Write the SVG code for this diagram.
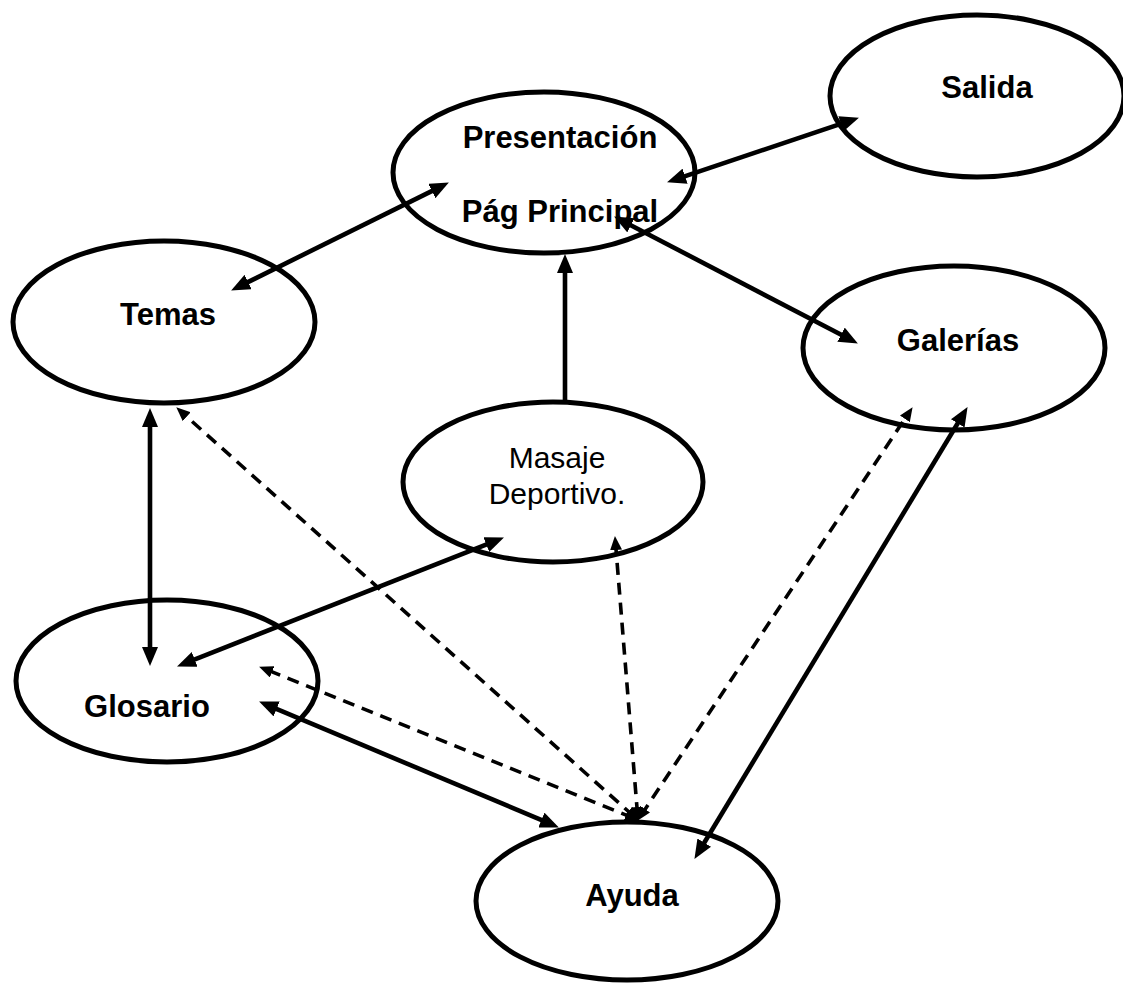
<svg xmlns="http://www.w3.org/2000/svg" width="1123" height="983" viewBox="0 0 1123 983">
  <style>
    .node { fill: #ffffff; stroke: #000000; stroke-width: 5; }
    .lbl { font-family: "Liberation Sans", Arial, sans-serif; font-size: 31px; font-weight: bold; fill: #000000; text-anchor: middle; }
    .lbl-r { font-family: "Liberation Sans", Arial, sans-serif; font-size: 30px; fill: #000000; text-anchor: middle; }
    .solid { fill: none; stroke: #000000; stroke-width: 4.6; }
    .dash { fill: none; stroke: #000000; stroke-width: 3.6; stroke-dasharray: 12 8; }
  </style>
  <defs>
    <marker id="head" markerUnits="userSpaceOnUse" markerWidth="19" markerHeight="16" refX="10" refY="8" orient="auto-start-reverse">
      <path d="M0,0 L19,8 L0,16 z" fill="#000000"/>
    </marker>
    <marker id="head-s" markerUnits="userSpaceOnUse" markerWidth="14" markerHeight="12" refX="7" refY="6" orient="auto-start-reverse">
      <path d="M0,0 L14,6 L0,12 z" fill="#000000"/>
    </marker>
  </defs>

  <rect width="1123" height="983" fill="#ffffff"/>

  <g id="salida">
    <ellipse class="node" cx="977" cy="96" rx="147" ry="81"/>
    <text class="lbl" x="987" y="98">Salida</text>
  </g>
  <g id="presentacion">
    <ellipse class="node" cx="544" cy="172.5" rx="151" ry="80.5"/>
    <text class="lbl" x="560" y="148">Presentación</text>
    <text class="lbl" x="560" y="222">Pág Principal</text>
  </g>
  <g id="temas">
    <ellipse class="node" cx="164" cy="322" rx="151" ry="81"/>
    <text class="lbl" x="168" y="325">Temas</text>
  </g>
  <g id="galerias">
    <ellipse class="node" cx="954" cy="348" rx="151" ry="82"/>
    <text class="lbl" x="958" y="351">Galerías</text>
  </g>
  <g id="masaje">
    <ellipse class="node" cx="553" cy="482" rx="150" ry="80"/>
    <text class="lbl-r" x="557" y="468">Masaje</text>
    <text class="lbl-r" x="557" y="504">Deportivo.</text>
  </g>
  <g id="glosario">
    <ellipse class="node" cx="167" cy="681" rx="151" ry="81"/>
    <text class="lbl" x="147" y="717">Glosario</text>
  </g>
  <g id="ayuda">
    <ellipse class="node" cx="627" cy="901" rx="151" ry="79"/>
    <text class="lbl" x="632" y="906">Ayuda</text>
  </g>

  <g id="connectors">
    <!-- solid two-way links -->
    <line class="solid" x1="239.2" y1="286.4" x2="440.8" y2="186.6" marker-start="url(#head)" marker-end="url(#head)"/>
    <line class="solid" x1="675.6" y1="179.4" x2="850.4" y2="120.6" marker-start="url(#head)" marker-end="url(#head)"/>
    <line class="solid" x1="622.1" y1="220.7" x2="849.9" y2="339.3" marker-start="url(#head)" marker-end="url(#head)"/>
    <line class="solid" x1="150" y1="417" x2="150" y2="657" marker-start="url(#head)" marker-end="url(#head)"/>
    <line class="solid" x1="185.4" y1="663.1" x2="495.6" y2="540.9" marker-start="url(#head)" marker-end="url(#head)"/>
    <line class="solid" x1="267.4" y1="705.1" x2="550.6" y2="823.9" marker-start="url(#head)" marker-end="url(#head)"/>
    <line class="solid" x1="962.9" y1="414.8" x2="699.1" y2="851.2" marker-start="url(#head)" marker-end="url(#head)"/>
    <!-- solid one-way link -->
    <line class="solid" x1="565" y1="402" x2="565" y2="263" marker-end="url(#head)"/>
    <!-- dashed links from Ayuda -->
    <line class="dash" x1="633.5" y1="816.0" x2="181.5" y2="412.0" marker-start="url(#head-s)" marker-end="url(#head-s)"/>
    <line class="dash" x1="632.4" y1="817.7" x2="265.6" y2="669.3" marker-start="url(#head-s)" marker-end="url(#head-s)"/>
    <line class="dash" x1="637.5" y1="814.0" x2="615.5" y2="543.0" marker-start="url(#head-s)" marker-end="url(#head-s)"/>
    <line class="dash" x1="641.3" y1="815.0" x2="908.7" y2="413.0" marker-start="url(#head-s)" marker-end="url(#head-s)"/>
  </g>
</svg>
